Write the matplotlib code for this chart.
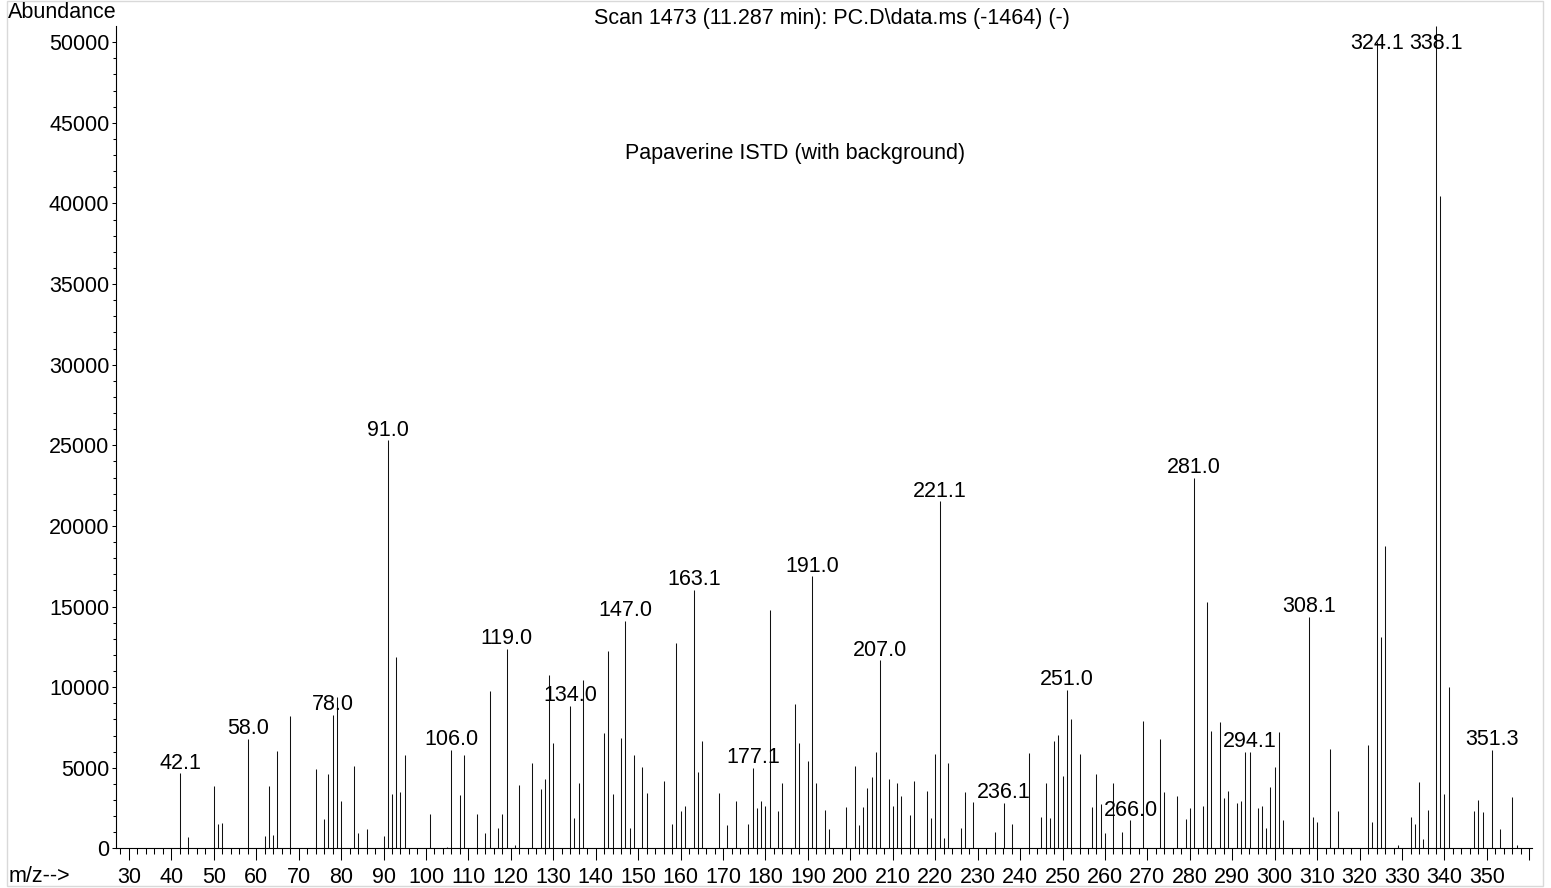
import matplotlib
matplotlib.use('Agg')
import matplotlib.pyplot as plt
from matplotlib.patches import Rectangle
from matplotlib.ticker import FixedLocator, StrMethodFormatter

plt.rcParams['font.family'] = ['Liberation Sans', 'DejaVu Sans']

# m/z von jedem Peak (Nachkommastelle nur bei den beschrifteten)
mz = [42.1, 44, 50, 51, 52, 58.0, 62, 63, 64, 65, 68, 74, 76, 77, 78.0, 79, 80,
      83, 84, 86, 90, 91.0, 92, 93, 94, 95, 101, 105, 106.0, 108, 109, 112, 114,
      115, 117, 118, 119.0, 121, 122, 125, 127, 128, 129, 130, 134.0, 135, 136,
      137, 142, 143, 144, 146, 147.0, 148, 149, 151, 152, 156, 158, 159, 160,
      161, 163.1, 164, 165, 169, 171, 173, 176, 177.1, 178, 179, 180, 181, 183,
      184, 187, 188, 190, 191.0, 192, 194, 195, 199, 201, 202, 203, 204, 205,
      206, 207.0, 209, 210, 211, 212, 214, 215, 218, 219, 220, 221.1, 222, 223,
      226, 227, 229, 234, 236.1, 238, 242, 245, 246, 247, 248, 249, 250, 251.0,
      252, 254, 257, 258, 259, 260, 262, 264, 266.0, 269, 273, 274, 277, 279,
      280, 281.0, 283, 284, 285, 287, 288, 289, 291, 292, 293, 294.1, 296, 297,
      298, 299, 300, 301, 302, 308.1, 309, 310, 313, 315, 322, 323, 324.1, 325,
      326, 329, 332, 333, 334, 335, 336, 338.1, 339, 340, 341, 347, 348, 349,
      351.3, 353, 356, 357]

abundance = [4650, 730, 3860, 1490, 1550, 6800, 770, 3900, 850, 6070, 8200, 4940,
             1840, 4590, 8280, 9400, 2950, 5140, 970, 1200, 800, 25300, 3350,
             11880, 3530, 5820, 2110, 100, 6110, 3300, 5820, 2150, 970, 9770,
             1240, 2150, 12370, 210, 3940, 5290, 3660, 4280, 10760, 6550, 8860,
             1860, 4090, 10450, 7170, 12230, 3390, 6880, 14130, 1280, 5780, 5060,
             3410, 4170, 1490, 12740, 2350, 2660, 16050, 4750, 6670, 3410, 1470,
             2970, 1510, 5000, 2520, 2970, 2620, 14810, 2310, 4090, 8980, 6550,
             5430, 16870, 4070, 2400, 1180, 2580, 5140, 1430, 2580, 3720, 4460,
             6010, 11670, 4280, 2660, 4030, 3280, 2070, 4170, 3590, 1860, 5850,
             21520, 620, 5330, 1280, 3510, 2870, 1050, 2830, 1510, 5890, 1960,
             4090, 1920, 6670, 7040, 4500, 9850, 8030, 5850, 2600, 4610, 2750,
             970, 4090, 1050, 1740, 7910, 6800, 3530, 3260, 1840, 2540, 23000,
             2660, 15300, 7310, 7830, 3140, 3570, 2830, 2970, 6010, 6010, 2520,
             2660, 1240, 3840, 5080, 7210, 1760, 14360, 1940, 1670, 6160, 2310,
             6400, 1670, 50000, 13140, 18730, 230, 1960, 1510, 4130, 560, 2400,
             51000, 40480, 3390, 10020, 2350, 3020, 2290, 6110, 1180, 3220, 230]

label_mz = [42.1, 58.0, 78.0, 91.0, 106.0, 119.0, 134.0, 147.0, 163.1, 177.1,
            191.0, 207.0, 221.1, 236.1, 251.0, 266.0, 281.0, 294.1, 308.1,
            324.1, 338.1, 351.3]

x_ticks = list(range(30, 361, 10))
y_ticks = list(range(0, 50001, 5000))

fs = 15.5
fig = plt.figure(figsize=(15.51, 8.88), dpi=100)
ax = fig.add_axes([0.0746, 0.0445, 0.9131, 0.9262])

ax.vlines(mz, 0, abundance, colors='#111111', linewidth=0.75)

# Beschriftung über dem Peak, oben abgeschnitten damit sie im Bild bleibt
for m in label_mz:
    a = abundance[mz.index(m)]
    ax.annotate(f'{m:.1f}', (m, min(a, 49300)), xytext=(0, 3.3),
                textcoords='offset points', ha='center', va='baseline',
                fontsize=fs, annotation_clip=False)

ax.set_xlim(26.9, 360.6)
ax.set_ylim(0, 51000)

ax.xaxis.set_major_locator(FixedLocator(x_ticks))
ax.xaxis.set_minor_locator(FixedLocator(list(range(28, 361, 2))))
ax.set_xticklabels([str(t) if t <= 350 else '' for t in x_ticks])
ax.yaxis.set_major_locator(FixedLocator(y_ticks))
ax.yaxis.set_minor_locator(FixedLocator(list(range(0, 50001, 1000))))
ax.yaxis.set_major_formatter(StrMethodFormatter('{x:.0f}'))

ax.tick_params(axis='x', which='major', length=8.6, width=0.75, pad=5, labelsize=fs)
ax.tick_params(axis='x', which='minor', length=4.3, width=0.75)
ax.tick_params(axis='y', which='major', length=3, width=0.75, pad=1.6, labelsize=fs)
ax.tick_params(axis='y', which='minor', length=2, width=0.75)

for s in ['top', 'right']:
    ax.spines[s].set_visible(False)
for s in ['left', 'bottom']:
    ax.spines[s].set_linewidth(0.8)

fig.text(0.0054, 0.9854, 'Abundance', ha='left', va='center', fontsize=fs)
fig.text(0.5361, 0.979, r'Scan 1473 (11.287 min): PC.D\data.ms (-1464) (-)',
         ha='center', va='center', fontsize=fs)
fig.text(0.5126, 0.8277, 'Papaverine ISTD (with background)',
         ha='center', va='center', fontsize=fs)
fig.text(0.0054, 0.0135, 'm/z-->', ha='left', va='center', fontsize=fs)

fig.add_artist(Rectangle((0.0047, 0.0023), 0.9901, 0.9966, transform=fig.transFigure,
                         fill=False, edgecolor='#d9d9d9', linewidth=1))

fig.savefig('out.png', dpi=100)
